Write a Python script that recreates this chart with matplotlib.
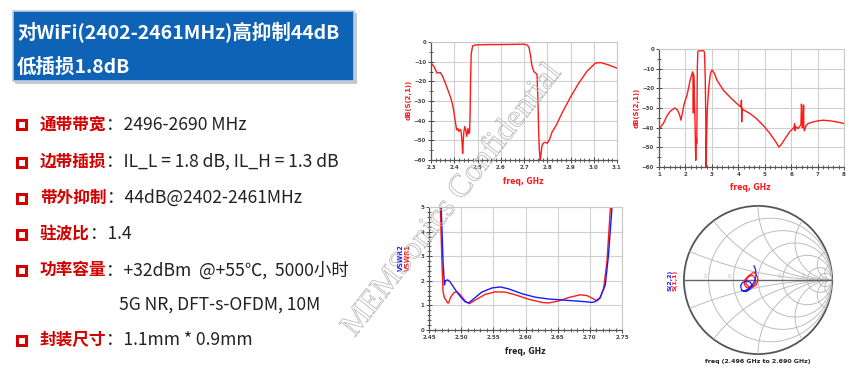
import matplotlib
matplotlib.use("Agg")
import matplotlib.pyplot as plt
import matplotlib.patheffects as pe
from matplotlib.patches import Rectangle, Circle
from matplotlib.ticker import MultipleLocator, FormatStrFormatter
import numpy as np

plt.rcParams['font.family'] = ['Noto Sans CJK SC', 'DejaVu Sans']

W, H = 859, 384

# ---- text data ----
title_lines = ["对WiFi(2402-2461MHz)高抑制44dB", "低插损1.8dB"]
spec_labels = ["通带带宽", "边带插损", "带外抑制", "驻波比", "功率容量", "", "封装尺寸"]
spec_values = ["：2496-2690 MHz", "：IL_L = 1.8 dB, IL_H = 1.3 dB", "：44dB@2402-2461MHz",
               "：1.4", "：+32dBm  @+55℃,  5000小时", "5G NR, DFT-s-OFDM, 10M",
               "：1.1mm * 0.9mm"]

# ---- S21 narrow span ----
s21_f = [2.300, 2.313, 2.326, 2.340, 2.350, 2.362, 2.373, 2.383, 2.390, 2.397, 2.404, 2.410,
         2.416, 2.420, 2.425, 2.429, 2.433, 2.436, 2.438, 2.441, 2.445, 2.450, 2.454, 2.459,
         2.463, 2.466, 2.468, 2.470, 2.473, 2.479, 2.490, 2.550, 2.600, 2.650, 2.700, 2.715,
         2.722, 2.728, 2.734, 2.742, 2.750, 2.756, 2.760, 2.763, 2.766, 2.770, 2.773, 2.777,
         2.782, 2.790, 2.800, 2.810, 2.820, 2.840, 2.864, 2.900, 2.935, 2.970, 3.007, 3.030,
         3.060, 3.100]
s21_db = [-10.7, -12.5, -15.8, -15.5, -17.5, -21.0, -24.5, -27.7, -30.5, -34.5, -40.0, -44.7,
          -44.0, -45.5, -44.5, -45.0, -50.0, -56.6, -52.0, -46.0, -43.0, -45.0, -48.0, -44.0,
          -46.5, -45.5, -38.0, -20.0, -6.0, -2.0, -1.5, -1.3, -1.3, -1.2, -1.1, -1.6,
          -3.0, -7.0, -12.0, -15.0, -15.8, -16.5, -30.0, -45.0, -55.0, -60.0, -57.0, -53.0,
          -51.5, -51.0, -51.5, -49.5, -46.0, -42.0, -36.0, -28.0, -21.0, -15.0, -10.7, -10.5,
          -11.5, -13.3]

# ---- S21 wide span ----
s21w_f = [1.00, 1.18, 1.30, 1.43, 1.59, 1.70, 1.78, 1.83, 1.88, 1.95, 2.06, 2.18, 2.27, 2.29,
          2.30, 2.31, 2.33, 2.36, 2.39, 2.41, 2.43, 2.45, 2.47, 2.50, 2.60, 2.68, 2.72, 2.75,
          2.77, 2.78, 2.80, 2.83, 2.88, 2.93, 2.97, 3.01, 3.10, 3.19, 3.44, 3.69, 3.94, 4.10,
          4.12, 4.13, 4.14, 4.16, 4.20, 4.44, 4.69, 4.94, 5.20, 5.45, 5.53, 5.60, 5.70, 5.95,
          6.10, 6.13, 6.15, 6.18, 6.26, 6.37, 6.39, 6.40, 6.42, 6.45, 6.47, 6.48, 6.50, 6.56,
          6.64, 6.80, 6.95, 7.20, 7.46, 7.70, 8.00]
s21w_db = [-40.8, -37.5, -34.0, -31.6, -30.0, -31.0, -33.5, -36.2, -33.0, -28.0, -23.5, -15.8,
           -11.6, -12.5, -32.5, -13.0, -20.0, -35.0, -56.6, -45.0, -48.0, -10.0, -1.2, -1.0,
           -0.9, -0.9, -1.5, -15.0, -35.0, -60.0, -45.0, -30.0, -20.0, -14.0, -11.5, -10.7,
           -12.5, -15.8, -21.0, -24.5, -27.7, -29.5, -26.0, -37.0, -30.0, -30.5, -31.0, -32.8,
           -35.4, -38.8, -43.0, -47.8, -49.8, -49.0, -47.0, -42.0, -40.0, -38.0, -41.5, -39.5,
           -40.5, -38.5, -28.0, -30.0, -40.0, -38.5, -28.5, -40.0, -41.6, -39.0, -37.9, -37.2,
           -36.7, -36.2, -36.5, -37.0, -37.9]

# ---- VSWR ----
vswr1_f = [2.4676, 2.4700, 2.4718, 2.4740, 2.4764, 2.4790, 2.4806, 2.4830, 2.4880, 2.4925,
           2.4987, 2.5060, 2.5127, 2.5220, 2.5376, 2.5530, 2.5687, 2.5840, 2.6050, 2.6256,
           2.6360, 2.6515, 2.6670, 2.6850, 2.6956, 2.7060, 2.7110, 2.7160, 2.7215, 2.7267,
           2.7320]
vswr1 = [5.0, 2.8, 1.56, 1.30, 1.22, 1.10, 1.10, 1.30, 1.50, 1.56,
         1.43, 1.18, 1.07, 1.22, 1.45, 1.55, 1.54, 1.43, 1.25, 1.12,
         1.10, 1.18, 1.32, 1.43, 1.40, 1.26, 1.18, 1.30, 1.70, 2.80,
         5.0]
vswr2_f = [2.4690, 2.4718, 2.4740, 2.4754, 2.4790, 2.4830, 2.4910, 2.4987, 2.5060, 2.5117,
           2.5190, 2.5320, 2.5480, 2.5610, 2.5740, 2.5950, 2.6160, 2.6360, 2.6570, 2.6780,
           2.6930, 2.7030, 2.7080, 2.7160, 2.7240, 2.7290, 2.7345]
vswr2 = [5.0, 2.8, 1.83, 2.00, 2.04, 1.95, 1.63, 1.36, 1.15, 1.10,
         1.26, 1.54, 1.71, 1.75, 1.67, 1.47, 1.33, 1.26, 1.22, 1.18,
         1.15, 1.12, 1.15, 1.32, 1.83, 3.05, 5.0]

# ---- Smith chart traces (reflection coefficient) ----
s11_re = [-0.054, -0.014, 0.000, -0.027, -0.086, -0.154, -0.186, -0.176, -0.131, -0.077,
          -0.036, -0.032, -0.068, -0.127, -0.163, -0.154, -0.109, -0.072]
s11_im = [0.104, 0.054, -0.005, -0.068, -0.109, -0.104, -0.059, 0.005, 0.050, 0.063,
          0.027, -0.032, -0.081, -0.090, -0.050, 0.014, 0.068, 0.095]
s22_re = [-0.054, -0.032, -0.027, -0.054, -0.109, -0.176, -0.222, -0.235, -0.208, -0.154,
          -0.100, -0.081, -0.109, -0.163, -0.213]
s22_im = [0.190, 0.136, 0.059, -0.032, -0.104, -0.149, -0.136, -0.077, -0.032, -0.014,
          -0.032, -0.077, -0.127, -0.158, -0.145]
smith_r = [0.2, 0.5, 1.0, 2.0, 5.0, 10.0]
smith_x = [0.2, 0.5, 1.0, 2.0, 5.0, 10.0]

RED = '#ff1a1a'
BLUE = '#1a1aff'
fig = plt.figure(figsize=(W / 100, H / 100), dpi=100)


def px_box(x0, y0, x1, y1):
    return [x0 / W, 1 - y1 / H, (x1 - x0) / W, (y1 - y0) / H]


def style_axes(ax):
    ax.grid(True, which='major', color='#d0d0d0', lw=0.8)
    ax.set_axisbelow(True)
    for s in ['top', 'right']:
        ax.spines[s].set_color('#c8c8c8')
    for s in ['left', 'bottom']:
        ax.spines[s].set_color('#555555')
        ax.spines[s].set_linewidth(0.9)
    ax.tick_params(which='both', direction='inout', labelsize=4, colors='#444444',
                   top=False, right=False, pad=1.5)
    ax.tick_params(which='major', length=4, width=0.7)
    ax.tick_params(which='minor', length=2.5, width=0.6)
    for lab in ax.get_xticklabels() + ax.get_yticklabels():
        lab.set_fontweight('bold')
        lab.set_family('DejaVu Sans')


# ---- title box ----
fig.patches.append(Rectangle((15 / W, 1 - 84 / H), 342 / W, 71 / H, transform=fig.transFigure,
                             facecolor='#c8c8c8', edgecolor='none', zorder=0))
fig.patches.append(Rectangle((13 / W, 1 - 81 / H), 341 / W, 70 / H, transform=fig.transFigure,
                             facecolor='#0e63b6', edgecolor='#b8cde6', lw=1.2, zorder=1))
fig.text(17 / W, 1 - 33 / H, title_lines[0], color='white', fontsize=14, fontweight='bold',
         va='center', ha='left')
fig.text(17 / W, 1 - 67 / H, title_lines[1], color='white', fontsize=14, fontweight='bold',
         va='center', ha='left')

# ---- spec list ----
row_y = [125, 162, 198, 234, 270, 305, 340]
renderer = fig.canvas.get_renderer()
for lab, val, y in zip(spec_labels, spec_values, row_y):
    yf = 1 - y / H
    if lab:
        fig.patches.append(Rectangle((16.5 / W, 1 - (y + 4.5) / H), 9 / W, 9 / H,
                                     transform=fig.transFigure, facecolor='white',
                                     edgecolor='#d40000', lw=2.2))
        t = fig.text(40 / W, yf, lab, color='#d40000', fontsize=12, fontweight='bold',
                     va='center', ha='left')
        x_end = t.get_window_extent(renderer).x1 / W
    else:
        x_end = 119 / W
    fig.text(x_end, yf, val, color='#222222', fontsize=12.6, va='center', ha='left')

# ---- chart 1: S21 narrow ----
ax1 = fig.add_axes(px_box(431, 42, 617, 160))
ax1.plot(s21_f, s21_db, color=RED, lw=1.0)
ax1.set_xlim(2.3, 3.1)
ax1.set_ylim(-60, 0)
ax1.xaxis.set_major_locator(MultipleLocator(0.1))
ax1.xaxis.set_minor_locator(MultipleLocator(0.02))
ax1.yaxis.set_major_locator(MultipleLocator(10))
ax1.yaxis.set_minor_locator(MultipleLocator(5))
ax1.xaxis.set_major_formatter(FormatStrFormatter('%.1f'))
style_axes(ax1)
fig.text(409 / W, 1 - 100 / H, 'dB(S(2,1))', rotation=90, color=RED, fontsize=5,
         fontweight='bold', family='DejaVu Sans', ha='center', va='center')
fig.text(523 / W, 1 - 182 / H, 'freq, GHz', color=RED, fontsize=5.5,
         fontweight='bold', family='DejaVu Sans', ha='center', va='center')

# ---- chart 2: S21 wide ----
ax2 = fig.add_axes(px_box(659, 49, 844, 167))
ax2.plot(s21w_f, s21w_db, color=RED, lw=1.0)
ax2.set_xlim(1, 8)
ax2.set_ylim(-60, 0)
ax2.xaxis.set_major_locator(MultipleLocator(1))
ax2.xaxis.set_minor_locator(MultipleLocator(0.2))
ax2.yaxis.set_major_locator(MultipleLocator(10))
ax2.yaxis.set_minor_locator(MultipleLocator(5))
style_axes(ax2)
fig.text(637 / W, 1 - 108 / H, 'dB(S(2,1))', rotation=90, color=RED, fontsize=5,
         fontweight='bold', family='DejaVu Sans', ha='center', va='center')
fig.text(750 / W, 1 - 188 / H, 'freq, GHz', color=RED, fontsize=5.5,
         fontweight='bold', family='DejaVu Sans', ha='center', va='center')

# ---- chart 3: VSWR ----
ax3 = fig.add_axes(px_box(429, 207, 622, 330))
ax3.plot(vswr1_f, vswr1, color=RED, lw=1.0)
ax3.plot(vswr2_f, vswr2, color=BLUE, lw=1.0)
ax3.set_xlim(2.45, 2.75)
ax3.set_ylim(0, 5)
ax3.xaxis.set_major_locator(MultipleLocator(0.05))
ax3.xaxis.set_minor_locator(MultipleLocator(0.01))
ax3.yaxis.set_major_locator(MultipleLocator(1))
ax3.yaxis.set_minor_locator(MultipleLocator(0.2))
ax3.xaxis.set_major_formatter(FormatStrFormatter('%.2f'))
style_axes(ax3)
fig.text(400.5 / W, 1 - 258 / H, 'VSWR2', rotation=90, color=BLUE, fontsize=4.8,
         fontweight='bold', family='DejaVu Sans', ha='center', va='center')
fig.text(407.5 / W, 1 - 258 / H, 'VSWR1', rotation=90, color=RED, fontsize=4.8,
         fontweight='bold', family='DejaVu Sans', ha='center', va='center')
fig.text(525 / W, 1 - 351 / H, 'freq, GHz', color='#222222', fontsize=5.5,
         fontweight='bold', family='DejaVu Sans', ha='center', va='center')

# ---- chart 4: Smith chart ----
ax4 = fig.add_axes(px_box(758 - 80, 280 - 80, 758 + 80, 280 + 80))
ax4.set_xlim(-1.08, 1.08)
ax4.set_ylim(-1.08, 1.08)
ax4.set_aspect('equal')
ax4.axis('off')
clip = Circle((0, 0), 1, transform=ax4.transData)
t = np.linspace(0, 2 * np.pi, 400)
for r in smith_r:
    c, rad = r / (1 + r), 1 / (1 + r)
    ln, = ax4.plot(c + rad * np.cos(t), rad * np.sin(t), color='#bdbdbd', lw=0.7)
    ln.set_clip_path(clip)
for xv in smith_x:
    for sgn in (1, -1):
        ln, = ax4.plot(1 + np.cos(t) / xv, sgn / xv + np.sin(t) / xv, color='#bdbdbd', lw=0.7)
        ln.set_clip_path(clip)
ax4.plot([-1, 1], [0, 0], color='#666666', lw=1.0)
ax4.add_patch(Circle((0, 0), 1, fill=False, edgecolor='#555555', lw=1.3))
for r in smith_r[:-1]:
    g = (r - 1) / (r + 1)
    ax4.text(g - 0.03, 0.04, '%.1f' % r, rotation=90, fontsize=2.5, color='#aaaaaa',
             ha='center', va='bottom', family='DejaVu Sans')
ax4.plot(s11_re, s11_im, color=RED, lw=0.9)
ax4.plot(s22_re, s22_im, color=BLUE, lw=0.9)
fig.text(670 / W, 1 - 280 / H, 'S(2,2)', rotation=90, color=BLUE, fontsize=4.5,
         fontweight='bold', family='DejaVu Sans', ha='center', va='center')
fig.text(675 / W, 1 - 280 / H, 'S(1,1)', rotation=90, color=RED, fontsize=4.5,
         fontweight='bold', family='DejaVu Sans', ha='center', va='center')
fig.text(758 / W, 1 - 362 / H, 'freq (2.496 GHz to 2.690 GHz)', color='#222222', fontsize=4.5,
         fontweight='bold', family='DejaVu Sans', ha='center', va='center')

# ---- watermark (outlined serif text) ----
fig.text(452 / W, 1 - 200 / H, 'MEMSonics Confidential', rotation=52, rotation_mode='anchor',
         fontsize=23.5, color=(1, 1, 1, 0), family='Liberation Serif',
         ha='center', va='center', zorder=10,
         path_effects=[pe.Stroke(linewidth=0.6, foreground='#bcbcbc')])

fig.savefig('out.png', dpi=100)
